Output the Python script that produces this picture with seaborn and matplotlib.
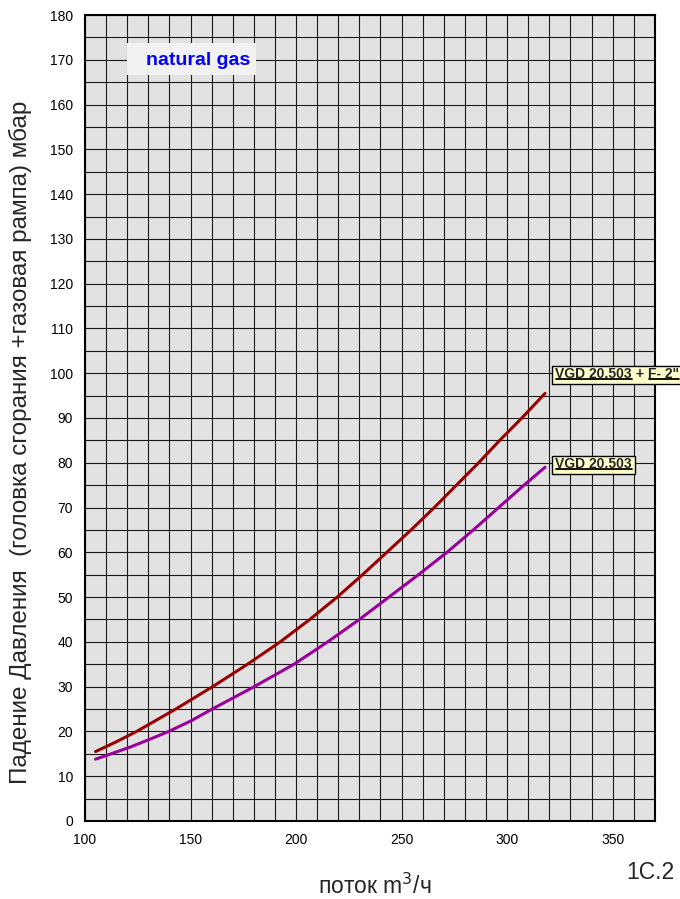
import matplotlib
matplotlib.use("Agg")
import matplotlib.pyplot as plt
import seaborn as sns
import pandas as pd
from matplotlib.lines import Line2D
from matplotlib.patches import Rectangle

# curva VGD 20.503 + F- 2"
red_x = [105, 114.5, 124.5, 143, 160.5, 177, 192.5, 206.5, 219.5, 231.5, 243, 254.5, 265.5, 276, 286.5, 296.5, 307, 318]
red_y = [15.5, 17.6, 20, 25, 30, 35, 40, 45, 50, 55, 60, 65, 70, 75, 80, 85, 90, 95.5]

# curva VGD 20.503
purple_x = [105, 113, 122, 131, 139.7, 150, 160.3, 180.2, 199, 215, 230, 244, 258, 271.5, 284, 296, 308, 318]
purple_y = [13.8, 15.1, 16.6, 18.3, 20, 22.3, 25, 30, 35, 40, 45, 50, 55, 60, 65, 70, 75, 79]

x_ticks = [100, 150, 200, 250, 300, 350]
y_ticks = list(range(0, 181, 10))

sns.set_style("white")
plt.rcParams['font.family'] = ['Liberation Sans', 'DejaVu Sans']

fig = plt.figure(figsize=(6.8, 8.99), dpi=100)
ax = fig.add_axes([0.125, 0.0868, 0.838, 0.8965])
ax.set_facecolor('#e2e2e2')

df_red = pd.DataFrame({'x': red_x, 'y': red_y})
df_purple = pd.DataFrame({'x': purple_x, 'y': purple_y})

sns.lineplot(data=df_red, x='x', y='y', ax=ax, color='#990000', lw=2.2, sort=False, estimator=None, zorder=5)
sns.lineplot(data=df_purple, x='x', y='y', ax=ax, color='#990099', lw=2.2, sort=False, estimator=None, zorder=5)

ax.set_xlim(100, 370)
ax.set_ylim(0, 180)
ax.set_xticks(x_ticks)
ax.set_yticks(y_ticks)
ax.set_xticks(range(100, 371, 10), minor=True)
ax.set_yticks(range(0, 181, 5), minor=True)
ax.grid(which='both', color='#1a1a1a', lw=0.8, zorder=1)
ax.set_axisbelow(True)
ax.tick_params(which='major', direction='out', length=5, width=1, colors='black', labelsize=10)
ax.tick_params(which='minor', length=0)
for s in ax.spines.values():
    s.set_color('black')
    s.set_linewidth(1.5)

ax.set_xlabel('поток m$^3$/ч', fontsize=16.5)
ax.xaxis.set_label_coords(0.509, -0.0906)
ax.xaxis.label.set_va('baseline')
ax.set_ylabel('Падение Давления  (головка сгорания +газовая рампа) мбар', fontsize=17.5)
ax.yaxis.set_label_coords(-0.093, 0.47)

fig.text(0.957, 0.029, '1C.2', fontsize=16.5, ha='center', va='center')

# caixa natural gas
ax.add_patch(Rectangle((120, 166.7), 61, 7.0, facecolor='#f2f2f2', edgecolor='none', zorder=4))
ax.text(129, 168.75, 'natural gas', color='#0000ff', fontsize=14, fontweight='bold', va='baseline', zorder=6)

# rotulos das curvas
lab_red = [ax.text(322.9, 98.9, 'VGD 20.503', fontsize=10, fontweight='bold', va='baseline', zorder=7)]
lab_purple = [ax.text(322.9, 78.8, 'VGD 20.503', fontsize=10, fontweight='bold', va='baseline', zorder=7)]

fig.canvas.draw()
renderer = fig.canvas.get_renderer()
lab_red.append(ax.annotate(' + ', xy=(1, 0), xycoords=lab_red[0], va='bottom', fontsize=10, fontweight='bold', zorder=7))
fig.canvas.draw()
lab_red.append(ax.annotate('F- 2"', xy=(1, 0), xycoords=lab_red[1], va='bottom', fontsize=10, fontweight='bold', zorder=7))
fig.canvas.draw()

inv = fig.transFigure.inverted()


def underline(t):
    bb = t.get_window_extent(renderer)
    (fx0, fy), (fx1, _) = inv.transform([(bb.x0 + 0.5, bb.y0 + 1.8), (bb.x1 - 0.5, bb.y0 + 1.8)])
    fig.add_artist(Line2D([fx0, fx1], [fy, fy], color='black', lw=1.3, zorder=11))


def caixa(textos):
    bbs = [t.get_window_extent(renderer) for t in textos]
    x0 = min(b.x0 for b in bbs) - 3
    x1 = max(b.x1 for b in bbs) + 3
    y0 = min(b.y0 for b in bbs) - 2.5
    y1 = max(b.y1 for b in bbs) + 1.5
    (fx0, fy0), (fx1, fy1) = inv.transform([(x0, y0), (x1, y1)])
    fig.add_artist(Rectangle((fx0, fy0), fx1 - fx0, fy1 - fy0, facecolor='#ffffcc',
                             edgecolor='black', lw=1, zorder=3))
    for t in textos:
        t.set_zorder(10)
        t.remove()
        fig.add_artist(t)


underline(lab_red[0])
underline(lab_red[2])
underline(lab_purple[0])
caixa(lab_red)
caixa(lab_purple)

fig.savefig('out.png', dpi=100)
